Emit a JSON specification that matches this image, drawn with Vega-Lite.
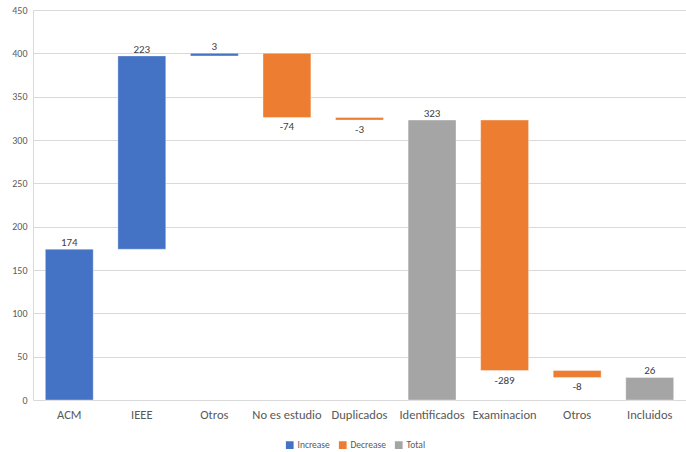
{
  "$schema": "https://vega.github.io/schema/vega-lite/v6.json",
  "autosize": "none",
  "width": 653,
  "height": 390,
  "padding": {"left": 33, "top": 10, "right": 0, "bottom": 52},
  "background": "white",
  "config": {
    "font": "Carlito, Liberation Sans Narrow, Noto Sans",
    "view": {"stroke": null}
  },
  "data": {
    "values": [
      {"key": "1|ACM", "start": 0, "end": 174, "type": "Increase", "value": 174},
      {"key": "2|IEEE", "start": 174, "end": 397, "type": "Increase", "value": 223},
      {"key": "3|Otros", "start": 397, "end": 400, "type": "Increase", "value": 3},
      {"key": "4|No es estudio", "start": 400, "end": 326, "type": "Decrease", "value": -74},
      {"key": "5|Duplicados", "start": 326, "end": 323, "type": "Decrease", "value": -3},
      {"key": "6|Identificados", "start": 0, "end": 323, "type": "Total", "value": 323},
      {"key": "7|Examinacion", "start": 323, "end": 34, "type": "Decrease", "value": -289},
      {"key": "8|Otros", "start": 34, "end": 26, "type": "Decrease", "value": -8},
      {"key": "9|Incluidos", "start": 0, "end": 26, "type": "Total", "value": 26}
    ]
  },
  "encoding": {
    "x": {
      "field": "key",
      "type": "nominal",
      "sort": null,
      "scale": {"paddingInner": 0.34, "paddingOuter": 0.17},
      "axis": {
        "title": null,
        "labelAngle": 0,
        "labelExpr": "split(datum.label, '|')[1]",
        "labelFontSize": 12.5,
        "labelColor": "#595959",
        "labelPadding": 8,
        "ticks": false,
        "domain": false,
        "grid": false
      }
    }
  },
  "layer": [
    {
      "mark": {"type": "bar", "stroke": "white", "strokeOpacity": 0.35, "strokeWidth": 1},
      "encoding": {
        "y": {
          "field": "start",
          "type": "quantitative",
          "scale": {"domain": [0, 450], "nice": false},
          "axis": {
            "title": null,
            "values": [0, 50, 100, 150, 200, 250, 300, 350, 400, 450],
            "labelFontSize": 10,
            "labelColor": "#595959",
            "labelPadding": 6,
            "ticks": false,
            "domain": true,
            "domainColor": "#d9d9d9",
            "gridColor": "#d9d9d9"
          }
        },
        "y2": {"field": "end"},
        "color": {
          "field": "type",
          "type": "nominal",
          "scale": {"domain": ["Increase", "Decrease", "Total"], "range": ["#4472C4", "#ED7D31", "#A5A5A5"]},
          "legend": {
            "title": null,
            "orient": "none",
            "direction": "horizontal",
            "legendX": 252,
            "legendY": 430,
            "symbolType": "square",
            "symbolSize": 60,
            "symbolStrokeWidth": 0,
            "labelFontSize": 9.5,
            "labelColor": "#595959",
            "columnPadding": 8,
            "labelOffset": 3
          }
        }
      }
    },
    {
      "transform": [{"filter": "datum.type != 'Decrease'"}],
      "mark": {"type": "text", "baseline": "bottom", "dy": -1, "fontSize": 11, "color": "#404040"},
      "encoding": {
        "y": {"field": "end", "type": "quantitative"},
        "text": {"field": "value", "type": "nominal"}
      }
    },
    {
      "transform": [{"filter": "datum.type == 'Decrease'"}],
      "mark": {"type": "text", "baseline": "top", "dy": 4, "fontSize": 11, "color": "#404040"},
      "encoding": {
        "y": {"field": "end", "type": "quantitative"},
        "text": {"field": "value", "type": "nominal"}
      }
    }
  ]
}
